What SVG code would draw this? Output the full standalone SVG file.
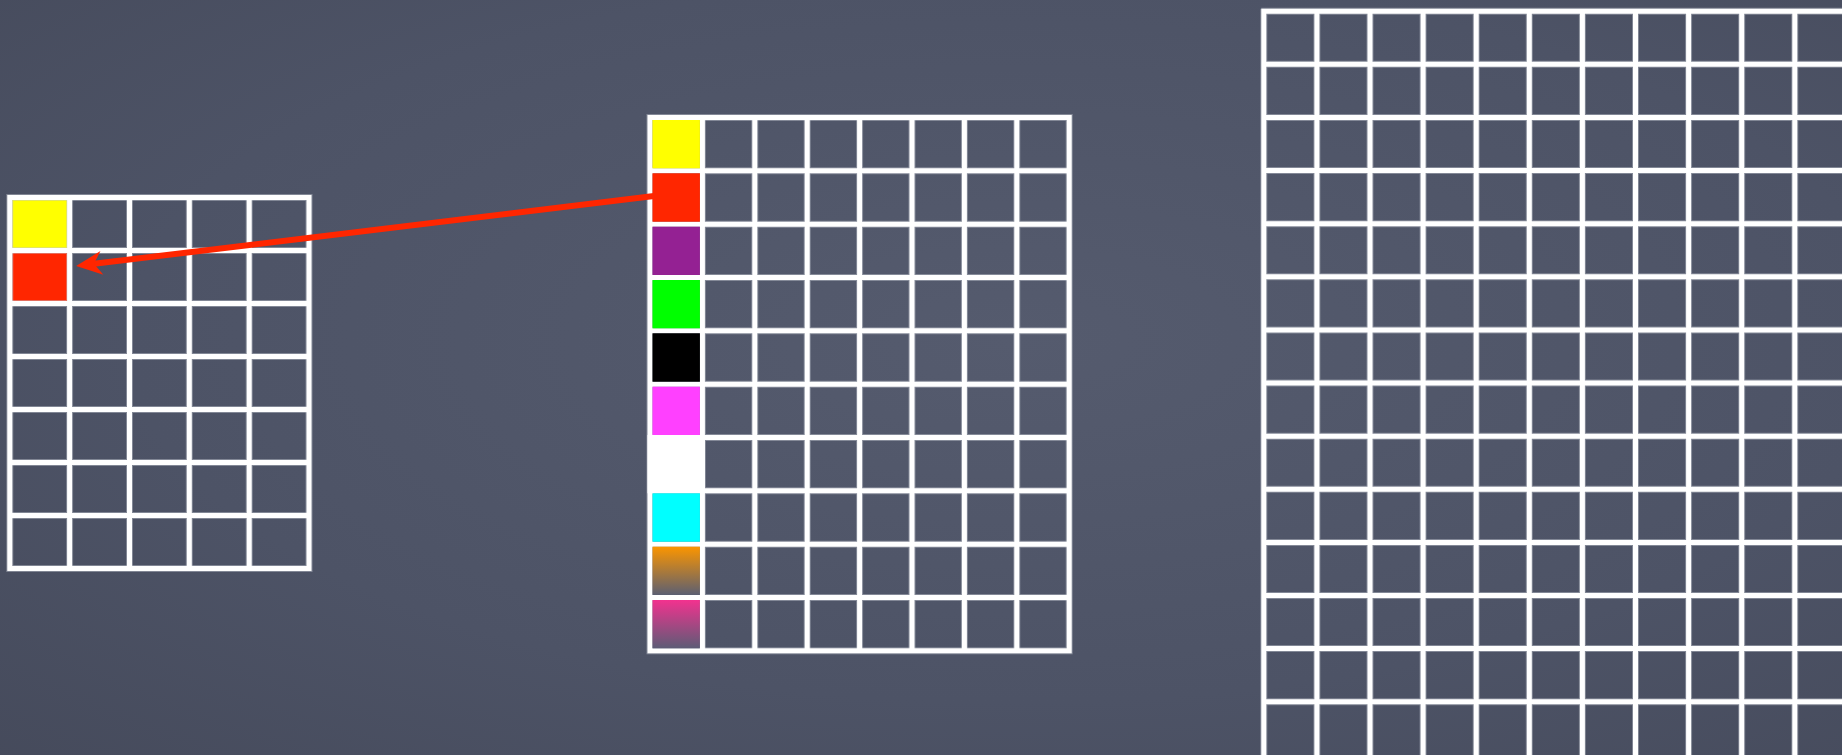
<svg xmlns="http://www.w3.org/2000/svg" width="1842" height="755" viewBox="0 0 1842 755">
  <defs>
    <radialGradient id="bg" cx="0.55" cy="0.45" r="0.8">
      <stop offset="0" stop-color="#555b6e"/>
      <stop offset="0.6" stop-color="#4d5366"/>
      <stop offset="1" stop-color="#454a5b"/>
    </radialGradient>
    <linearGradient id="orangeFade" x1="0" y1="0" x2="0" y2="1">
      <stop offset="0" stop-color="#fb9500"/>
      <stop offset="1" stop-color="#5c5f72"/>
    </linearGradient>
    <linearGradient id="pinkFade" x1="0" y1="0" x2="0" y2="1">
      <stop offset="0" stop-color="#f2328f"/>
      <stop offset="1" stop-color="#5d5c76"/>
    </linearGradient>
    <marker id="arrowHead" markerUnits="userSpaceOnUse" viewBox="-28 -14 30 28" markerWidth="30" markerHeight="28" refX="-18" refY="0" orient="auto">
      <path d="M0,0 L-26,-12 L-18,0 L-26,12 Z" fill="#ff2600"/>
    </marker>
  </defs>
  <style>
    .halo { fill: none; stroke: #c4c7d0; stroke-width: 7; stroke-opacity: 0.45; }
    .grid { fill: none; stroke: #ffffff; stroke-width: 5; }
    .arrow { fill: none; stroke: #ff2600; stroke-width: 6; }
  </style>

  <rect x="0" y="0" width="1842" height="755" fill="url(#bg)"/>

  <!-- Left grid: 5 x 7 -->
  <g id="left-grid">
    <rect x="12.3" y="200" width="54.8" height="48" fill="#ffff00"/>
    <rect x="12.3" y="253" width="54.8" height="48" fill="#ff2600"/>
    <g class="halo">
      <rect x="9.8" y="197.5" width="299.2" height="371"/>
      <path d="M69.6,197.5V568.5M129.5,197.5V568.5M189.3,197.5V568.5M249.2,197.5V568.5M9.8,250.5H309M9.8,303.5H309M9.8,356.5H309M9.8,409.5H309M9.8,462.5H309M9.8,515.5H309"/>
    </g>
    <g class="grid">
      <rect x="9.8" y="197.5" width="299.2" height="371"/>
      <path d="M69.6,197.5V568.5M129.5,197.5V568.5M189.3,197.5V568.5M249.2,197.5V568.5M9.8,250.5H309M9.8,303.5H309M9.8,356.5H309M9.8,409.5H309M9.8,462.5H309M9.8,515.5H309"/>
    </g>
  </g>

  <!-- Middle grid: 8 x 10 -->
  <g id="middle-grid">
    <g class="halo">
      <rect x="650" y="117.5" width="419.2" height="533.3"/>
      <path d="M702.4,117.5V650.8M754.8,117.5V650.8M807.2,117.5V650.8M859.6,117.5V650.8M912,117.5V650.8M964.4,117.5V650.8M1016.8,117.5V650.8M650,170.8H1069.2M650,224.2H1069.2M650,277.5H1069.2M650,330.8H1069.2M650,384.2H1069.2M650,437.5H1069.2M650,490.8H1069.2M650,544.2H1069.2M650,597.5H1069.2"/>
    </g>
    <g class="grid">
      <rect x="650" y="117.5" width="419.2" height="533.3"/>
      <path d="M702.4,117.5V650.8M754.8,117.5V650.8M807.2,117.5V650.8M859.6,117.5V650.8M912,117.5V650.8M964.4,117.5V650.8M1016.8,117.5V650.8M650,170.8H1069.2M650,224.2H1069.2M650,277.5H1069.2M650,330.8H1069.2M650,384.2H1069.2M650,437.5H1069.2M650,490.8H1069.2M650,544.2H1069.2M650,597.5H1069.2"/>
    </g>
    <rect x="652.5" y="120" width="47.4" height="48.3" fill="#ffff00"/>
    <rect x="652.5" y="173.3" width="47.4" height="48.4" fill="#ff2600"/>
    <rect x="652.5" y="226.7" width="47.4" height="48.3" fill="#942193"/>
    <rect x="652.5" y="280" width="47.4" height="48.3" fill="#00ff00"/>
    <rect x="652.5" y="333.3" width="47.4" height="48.4" fill="#000000"/>
    <rect x="652.5" y="386.7" width="47.4" height="48.3" fill="#ff40ff"/>
    <rect x="647.5" y="435" width="57.4" height="58.3" fill="#ffffff"/>
    <rect x="652.5" y="493.3" width="47.4" height="48.4" fill="#00ffff"/>
    <rect x="652.5" y="546.7" width="47.4" height="48.3" fill="url(#orangeFade)"/>
    <rect x="652.5" y="600" width="47.4" height="48.3" fill="url(#pinkFade)"/>
  </g>

  <!-- Right grid (continues beyond the frame) -->
  <g id="right-grid">
    <g class="halo">
      <path d="M1263.8,8.7V760M1316.9,11.2V760M1370,11.2V760M1423.1,11.2V760M1476.2,11.2V760M1529.3,11.2V760M1582.4,11.2V760M1635.5,11.2V760M1688.6,11.2V760M1741.7,11.2V760M1794.8,11.2V760M1261.3,11.2H1850M1263.8,64.3H1850M1263.8,117.4H1850M1263.8,170.6H1850M1263.8,223.7H1850M1263.8,276.8H1850M1263.8,329.9H1850M1263.8,383H1850M1263.8,436.2H1850M1263.8,489.3H1850M1263.8,542.4H1850M1263.8,595.5H1850M1263.8,648.6H1850M1263.8,701.8H1850"/>
    </g>
    <g class="grid">
      <path d="M1263.8,8.7V760M1316.9,11.2V760M1370,11.2V760M1423.1,11.2V760M1476.2,11.2V760M1529.3,11.2V760M1582.4,11.2V760M1635.5,11.2V760M1688.6,11.2V760M1741.7,11.2V760M1794.8,11.2V760M1261.3,11.2H1850M1263.8,64.3H1850M1263.8,117.4H1850M1263.8,170.6H1850M1263.8,223.7H1850M1263.8,276.8H1850M1263.8,329.9H1850M1263.8,383H1850M1263.8,436.2H1850M1263.8,489.3H1850M1263.8,542.4H1850M1263.8,595.5H1850M1263.8,648.6H1850M1263.8,701.8H1850"/>
    </g>
  </g>

  <g id="connectors">
    <path class="arrow" d="M654,196 L94,263.8" marker-end="url(#arrowHead)"/>
  </g>
</svg>
